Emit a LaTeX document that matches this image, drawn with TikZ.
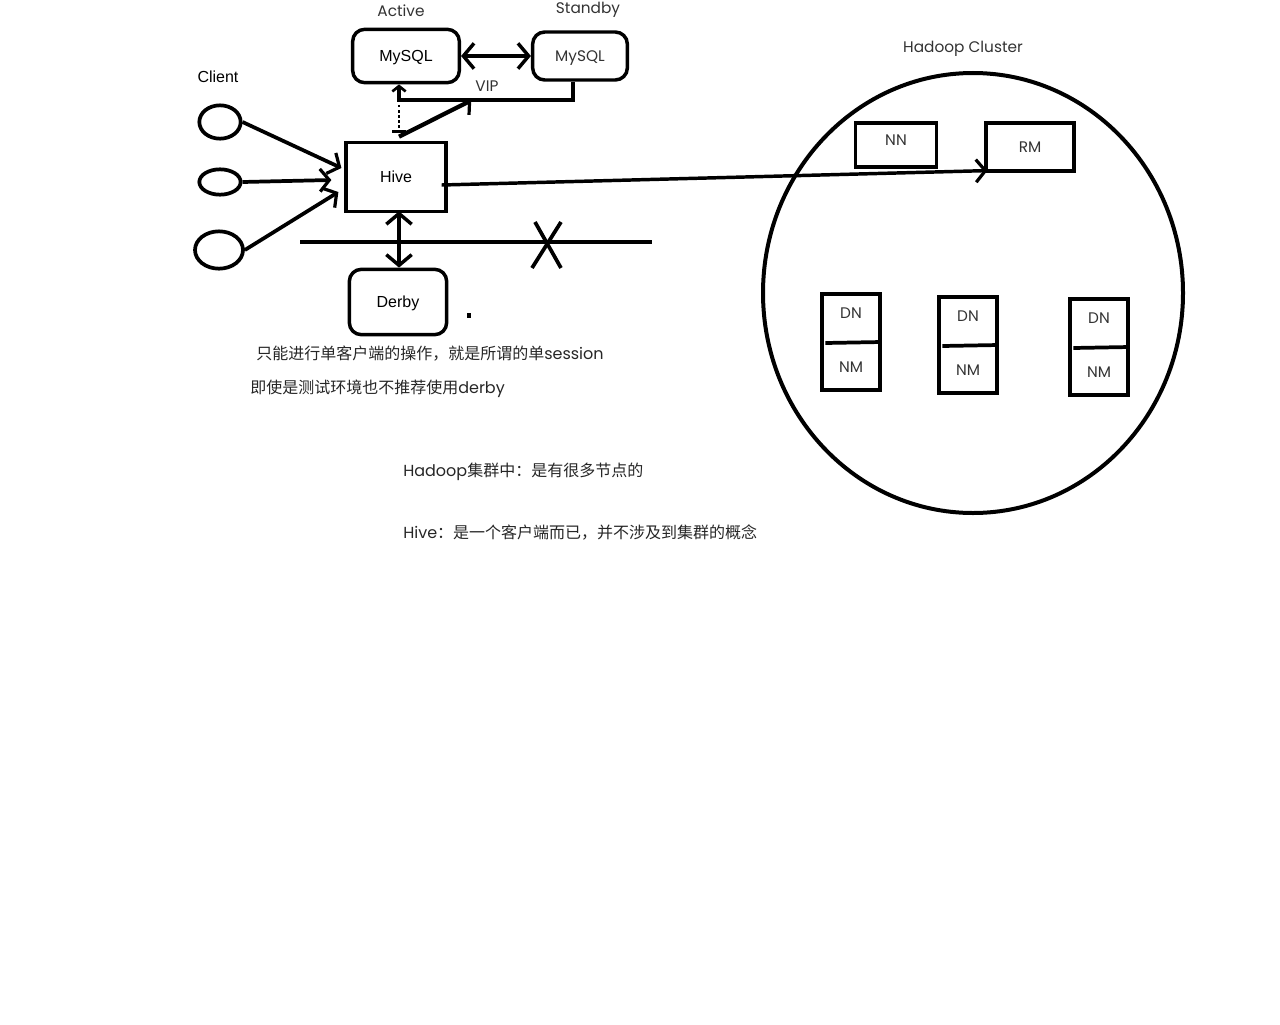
\documentclass[tikz,border=0pt]{standalone}
\usepackage{fontspec}
\setmainfont{Liberation Sans}
\newfontfamily\geo{Poppins}
\newfontfamily\cjk{Noto Sans CJK SC}
\usetikzlibrary{arrows.meta,shapes.geometric}

\begin{document}
\begin{tikzpicture}[x=0.75pt,y=-0.75pt,
  every node/.style={font=\fontsize{12}{14}\selectfont},
  rbox/.style={draw,line width=2.6pt,rounded corners=9pt,inner sep=0pt,text depth=0pt},
  sbox/.style={draw,line width=2.4pt,inner sep=0pt},
  client/.style={draw,ellipse,line width=2.8pt,inner sep=0pt},
  geo/.style={font=\geo\fontsize{11.5}{13}\selectfont,text=black!80},
  note/.style={anchor=west,inner sep=0pt,font=\cjk\fontsize{12}{14}\selectfont,text=black!85},
  wire/.style={line width=2.8pt},
  barb/.style={-{Straight Barb[length=7pt,width=17pt,line width=2.4pt]}},
  dbarb/.style={{Straight Barb[length=8pt,width=19pt,line width=2.6pt]}-{Straight Barb[length=8pt,width=19pt,line width=2.6pt]}},
]
\useasboundingbox (0,0) rectangle (1280,1024);

% MySQL
\node[rbox,minimum width=80pt,minimum height=40pt] (active) at (406,56) {MySQL};
\node[rbox,minimum width=71pt,minimum height=36pt,geo] (standby) at (580,56) {MySQL};
\node[geo] (lactive) at (401,11) {Active};
\node[geo] (lstandby) at (588,10) {Standby};
\draw[wire,dbarb] (active.east) -- (standby.west);

% Client
\node (lclient) at (218,77) {Client};
\node[client,minimum width=31pt,minimum height=25pt] (c1) at (220,122) {};
\node[client,minimum width=31pt,minimum height=19pt] (c2) at (220,182) {};
\node[client,minimum width=36pt,minimum height=28pt] (c3) at (219,250) {};

% Hive
\node[sbox,minimum width=75pt,minimum height=52pt] (hive) at (396,177) {Hive};
\draw[wire,barb] (c1.east) -- ([shift={(-3,-9)}]hive.west);
\draw[wire,barb] (c2.east) -- ([shift={(-13,3)}]hive.west);
\draw[wire,barb] (c3.east) -- ([shift={(-6,15)}]hive.west);

% VIP
\coordinate (vip) at (472,100);
\coordinate (acs) at ([shift={(-7,0)}]active.south);
\node[geo,inner sep=1pt] (lvip) at (487,86) {VIP};
\draw[wire,-{Straight Barb[length=4pt,width=10pt,line width=2pt]}]
  ([shift={(-7,0)}]standby.south) |- (acs |- vip) -- (acs);
\draw[line width=3.2pt,-{Straight Barb[right,length=5pt,width=18pt,line width=2.4pt]}]
  ([shift={(3,-4)}]hive.north) -- (vip);
\draw[line width=1.8pt,dotted,-{Bar[width=10pt,line width=2pt]}]
  (acs |- vip) -- ([shift={(3,-8)}]hive.north);

% Derby
\node[rbox,minimum width=73pt,minimum height=49pt] (derby) at (398,302) {Derby};
\draw[wire,dbarb] ([shift={(3,-2)}]hive.south) -- ([shift={(1,0)}]derby.north);
\fill (467,313) rectangle (471,318);

% 不推荐
\coordinate (ln1) at (300,242);
\coordinate (ln2) at (652,242);
\draw[wire] (ln1) -- (ln2);
\coordinate (xm) at (547,245);
\draw[wire] ([shift={(-12,-23)}]xm) -- ([shift={(14,23)}]xm);
\draw[wire] ([shift={(14,-23)}]xm) -- ([shift={(-15,23)}]xm);

% Hadoop Cluster
\node[draw,ellipse,line width=3pt,minimum width=315pt,minimum height=330pt] (cluster) at (973,293) {};
\node[geo] (lcluster) at (963,49) {Hadoop Cluster};
\node[sbox,minimum width=61pt,minimum height=33pt,geo] (nn) at (896,145) {\raisebox{7pt}{NN}};
\node[sbox,minimum width=66pt,minimum height=36pt,geo] (rm) at (1030,147) {RM};
\draw[line width=2.6pt,-{Straight Barb[length=7pt,width=17pt,line width=2.4pt]}]
  ([shift={(-6,8)}]hive.east) -- ([shift={(3,-2)}]rm.south west);

\foreach \i/\x/\y in {1/851/342,2/968/345,3/1099/347}{
  \node[sbox,minimum width=43.5pt,minimum height=72pt] (dn\i) at (\x,\y) {};
  \draw[wire] ([shift={(5,1)}]dn\i.west) -- (dn\i.east);
  \node[geo] at ([shift={(0,-29)}]dn\i.center) {DN};
  \node[geo] at ([shift={(0,25)}]dn\i.center) {NM};
}

% 说明
\node[note] (n1) at (256,354) {只能进行单客户端的操作，就是所谓的单{\geo session}};
\node[note] (n2) at (250,389) {即使是测试环境也不推荐使用{\geo derby}};
\node[note] (n3) at (403,472) {{\geo Hadoop}集群中：是有很多节点的};
\node[note] (n4) at (403,532) {{\geo Hive}：是一个客户端而已，并不涉及到集群的概念};
\end{tikzpicture}
\end{document}
